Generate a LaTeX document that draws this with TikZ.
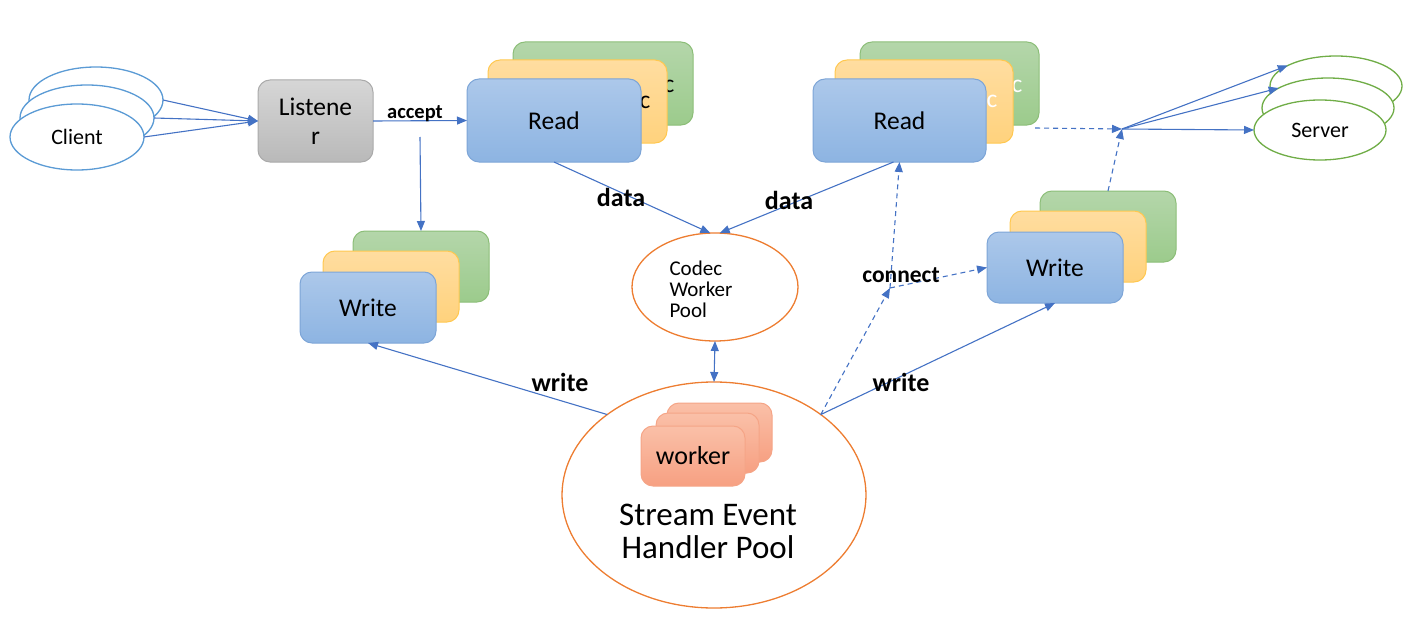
\documentclass[tikz,border=0pt]{standalone}
\usepackage{fontspec}
\setmainfont{Carlito}
\usetikzlibrary{arrows.meta,shapes.geometric}
\definecolor{arrowblue}{RGB}{68,114,196}
\definecolor{clientblue}{RGB}{91,155,213}
\definecolor{servergreen}{RGB}{112,173,71}
\definecolor{poolorange}{RGB}{237,125,49}
\definecolor{blueT}{RGB}{172,200,234}\definecolor{blueB}{RGB}{141,180,226}\definecolor{blueD}{RGB}{125,165,215}
\definecolor{greenT}{RGB}{180,214,170}\definecolor{greenB}{RGB}{156,203,140}\definecolor{greenD}{RGB}{140,190,120}
\definecolor{yelT}{RGB}{255,221,160}\definecolor{yelB}{RGB}{255,210,125}\definecolor{yelD}{RGB}{255,200,80}
\definecolor{grayT}{RGB}{214,214,214}\definecolor{grayB}{RGB}{185,185,185}\definecolor{grayD}{RGB}{170,170,170}
\definecolor{salT}{RGB}{250,192,168}\definecolor{salB}{RGB}{247,160,130}\definecolor{salD}{RGB}{245,165,135}
\begin{document}
\begin{tikzpicture}[x=1pt,y=-1pt,
  card/.style={rounded corners=12pt,inner sep=0pt,outer sep=0pt,line width=1pt},
  bluecard/.style={card,draw=blueD,top color=blueT,bottom color=blueB},
  greencard/.style={card,draw=greenD,top color=greenT,bottom color=greenB},
  yellowcard/.style={card,draw=yelD,top color=yelT,bottom color=yelB},
  graycard/.style={card,draw=grayD,top color=grayT,bottom color=grayB},
  salmoncard/.style={card,draw=salD,top color=salT,bottom color=salB},
  readsize/.style={minimum height=83pt},
  writesize/.style={minimum width=136pt,minimum height=71pt},
  clientell/.style={ellipse,draw=clientblue,fill=white,line width=1.3pt,minimum width=134pt,minimum height=66pt,inner sep=0pt,outer sep=0pt},
  serverell/.style={ellipse,draw=servergreen,fill=white,line width=1.3pt,minimum width=132pt,minimum height=60pt,inner sep=0pt,outer sep=0pt},
  poolell/.style={ellipse,draw=poolorange,line width=1.3pt,inner sep=0pt,outer sep=0pt},
  big/.style={font=\fontsize{25.5}{29}\selectfont},
  lbl/.style={font=\bfseries\fontsize{26}{28}\selectfont},
  conn/.style={draw=arrowblue,line width=1.1pt,-{Triangle[length=10pt,width=8pt]}},
  dconn/.style={conn,dash pattern=on 5pt off 4pt},
]
\useasboundingbox (0,0) rectangle (1403,618);

% clients
\node[clientell] (client3) at (96,100) {};
\node[clientell] (client2) at (87,118) {};
\node[clientell,font=\fontsize{22}{26}\selectfont] (client1) at (77,137) {Client};

% servers
\node[serverell] (server3) at (1336,86) {};
\node[serverell] (server2) at (1328,108) {};
\node[serverell,font=\fontsize{22}{26}\selectfont] (server1) at (1320,130) {Server};

% listener
\node[graycard,minimum width=115pt,minimum height=82pt,align=center,big] (listener) at (315.5,121) {Listene\\r};

% left read stack
\node[greencard,readsize,minimum width=180pt] (readL3) at (603,83.5) {};
\node[big] (cL3) at (669,86) {c};
\node[yellowcard,readsize,minimum width=179pt] (readL2) at (577.5,101.5) {};
\node[big] (cL2) at (645,102) {c};
\node[bluecard,readsize,minimum width=174pt,big] (readL1) at (554,120.5) {Read};

% right read stack
\node[greencard,readsize,minimum width=179pt] (readR3) at (949.5,83.5) {};
\node[big,text=white] (cR3) at (1017,86) {c};
\node[yellowcard,readsize,minimum width=178pt] (readR2) at (924,101.5) {};
\node[big,text=white] (cR2) at (992,101) {c};
\node[bluecard,readsize,minimum width=173pt,big] (readR1) at (899.5,120.5) {Read};

% left write stack
\node[greencard,writesize] (writeL3) at (421,266.5) {};
\node[yellowcard,writesize] (writeL2) at (391,286.5) {};
\node[bluecard,writesize,big] (writeL1) at (368,307.5) {Write};

% right write stack
\node[greencard,writesize] (writeR3) at (1108,226.5) {};
\node[yellowcard,writesize] (writeR2) at (1078,246.5) {};
\node[bluecard,writesize,big] (writeR1) at (1055,267.5) {Write};

% codec worker pool
\node[poolell,minimum width=166pt,minimum height=108pt] (codec) at (715,287) {};
\node[anchor=west,align=left,font=\fontsize{21}{21}\selectfont] (codectext) at (666,289) {Codec\\Worker\\Pool};

% stream event handler pool
\node[poolell,minimum width=304pt,minimum height=226pt] (stream) at (714,495) {};
\node[salmoncard,minimum width=105pt,minimum height=59pt] (worker3) at (719.5,432.5) {};
\node[salmoncard,minimum width=103pt,minimum height=60pt] (worker2) at (707.5,443) {};
\node[salmoncard,minimum width=104pt,minimum height=60pt,font=\fontsize{26}{28}\selectfont] (worker1) at (693,456) {worker};
\node[align=center,font=\fontsize{33}{33}\selectfont] (streamtext) at (708,531) {Stream Event\\Handler Pool};

% junction points
\coordinate (acceptdrop) at (420,137);
\coordinate (connectpt) at (890,288);
\coordinate (serverpt) at (1122,129);
\coordinate (readtail) at (1035,128);

% client -> listener
\draw[conn] (client3.east) -- (listener.west);
\draw[conn] (client2.east) -- (listener.west);
\draw[conn] (client1.east) -- (listener.west);

% accept
\draw[conn] (listener.east) -- (readL1.west);
\node[font=\bfseries\fontsize{20.5}{22}\selectfont] (acceptlbl) at (415,114) {accept};
\draw[conn] (acceptdrop) -- (writeL3.north);

% data to codec pool
\draw[conn] (readL1.south) -- (codec.95);
\draw[conn] ([xshift=-6pt]readR1.south) -- (codec.85);
\node[lbl] (datal) at (621,197) {data};
\node[lbl] (datar) at (789,200) {data};

% codec <-> stream
\draw[draw=arrowblue,line width=1.1pt,{Triangle[length=10pt,width=8pt]}-{Triangle[length=10pt,width=8pt]}] (codec.south) -- (stream.north);

% write back
\draw[conn] (stream.143) -- (writeL1.south);
\draw[conn] (stream.37) -- (writeR1.south);
\node[lbl] (writel) at (560,382) {write};
\node[lbl] (writer) at (901,382) {write};

% connect
\draw[dconn] (stream.37) -- (connectpt);
\draw[dconn] (connectpt) -- (readR1.south);
\draw[dconn] (connectpt) -- (writeR1.west);
\node[font=\bfseries\fontsize{23.5}{25}\selectfont] (connectlbl) at (901,275) {connect};

% toward servers
\draw[dconn] (readtail) -- (serverpt);
\draw[dconn] (writeR3.north) -- (serverpt);
\draw[conn] (serverpt) -- (server1.west);
\draw[conn] (serverpt) -- (server2.158);
\draw[conn] (serverpt) -- (server3.157);
\end{tikzpicture}
\end{document}
